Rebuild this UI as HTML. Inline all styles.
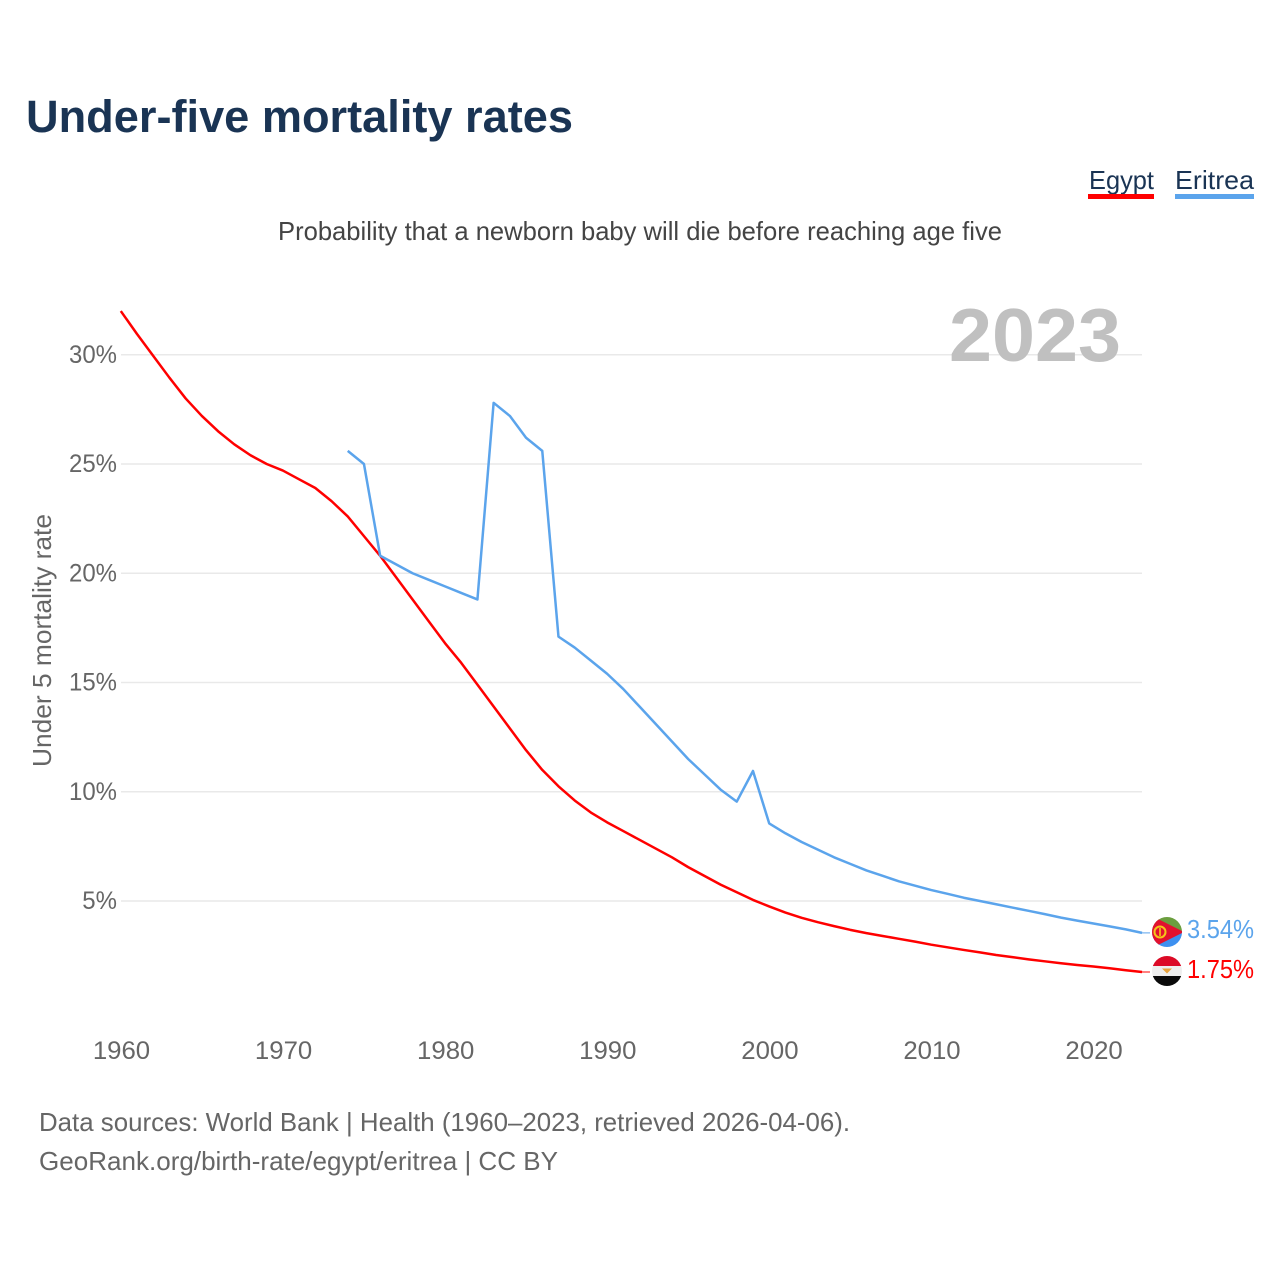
<!DOCTYPE html>
<html lang="en">
<head>
<meta charset="utf-8">
<title>Under-five mortality rates</title>
<style>
html,body{margin:0;padding:0;background:#fff;width:1280px;height:1280px;overflow:hidden}
svg{display:block}
text{font-family:"Liberation Sans",sans-serif}
</style>
</head>
<body>
<svg id="chart" width="1280" height="1280" viewBox="0 0 1280 1280" xmlns="http://www.w3.org/2000/svg">
  <defs>
    <clipPath id="clip-er"><circle cx="1167" cy="932" r="15"/></clipPath>
    <clipPath id="clip-eg"><circle cx="1167" cy="971" r="15"/></clipPath>
  </defs>
  <rect width="1280" height="1280" fill="#fff"/>
  <text x="26" y="132" font-size="45" font-weight="700" fill="#1a3454" textLength="547" lengthAdjust="spacingAndGlyphs">Under-five mortality rates</text>

  <g>
    <text x="1089" y="189" font-size="26" fill="#1a3454" textLength="65" lengthAdjust="spacingAndGlyphs">Egypt</text>
    <rect x="1088" y="194" width="66" height="5" fill="#ff0000"/>
  </g>
  <g>
    <text x="1175" y="189" font-size="26" fill="#1a3454" textLength="79" lengthAdjust="spacingAndGlyphs">Eritrea</text>
    <rect x="1175" y="194" width="79" height="5" fill="#5ba4ec"/>
  </g>

  <text x="278" y="240" font-size="26" fill="#444" textLength="724" lengthAdjust="spacingAndGlyphs">Probability that a newborn baby will die before reaching age five</text>

  <g id="grid"></g>
  <text x="949" y="361" font-size="75" font-weight="700" fill="#c0c0c0" textLength="172" lengthAdjust="spacingAndGlyphs">2023</text>
  <g id="yticks"></g>
  <g id="xticks"></g>
  <text transform="translate(51,767) rotate(-90)" font-size="26" fill="#666" textLength="253" lengthAdjust="spacingAndGlyphs">Under 5 mortality rate</text>

  <g id="series"></g>

  <g clip-path="url(#clip-er)">
    <rect x="1150" y="915" width="34" height="17" fill="#6b9e3f"/>
    <rect x="1150" y="932" width="34" height="17" fill="#3d90f0"/>
    <polygon points="1150,915 1184,932 1150,949" fill="#e2112f"/>
    <circle cx="1160" cy="932" r="5.5" fill="none" stroke="#f5c518" stroke-width="2"/>
    <rect x="1159.2" y="928" width="1.6" height="8" fill="#f5c518"/>
  </g>
  <g clip-path="url(#clip-eg)">
    <rect x="1150" y="954" width="34" height="12" fill="#dc0a26"/>
    <rect x="1150" y="966" width="34" height="10" fill="#eeeeee"/>
    <rect x="1150" y="976" width="34" height="12" fill="#0a0a0a"/>
    <polygon points="1162,968.5 1172,968.5 1167,973.5" fill="#e8a33d"/>
  </g>

  <text x="1187" y="938" font-size="26" fill="#5ba4ec" textLength="67" lengthAdjust="spacingAndGlyphs">3.54%</text>
  <text x="1187" y="978" font-size="26" fill="#ff0000" textLength="67" lengthAdjust="spacingAndGlyphs">1.75%</text>

  <text x="39" y="1131" font-size="26" fill="#666" textLength="811" lengthAdjust="spacingAndGlyphs">Data sources: World Bank | Health (1960–2023, retrieved 2026-04-06).</text>
  <text x="39" y="1170" font-size="26" fill="#666" textLength="519" lengthAdjust="spacingAndGlyphs">GeoRank.org/birth-rate/egypt/eritrea | CC BY</text>
</svg>
<script>
const egyptStartYear = 1960;
const egyptValues = [32.0,30.95,29.95,28.95,28.0,27.2,26.5,25.9,25.4,25.0,24.7,24.3,23.9,23.3,22.6,21.7,20.8,19.8,18.8,17.8,16.8,15.9,14.9,13.9,12.9,11.9,11.0,10.25,9.6,9.05,8.6,8.2,7.8,7.4,7.0,6.55,6.15,5.75,5.4,5.05,4.75,4.47,4.23,4.03,3.85,3.68,3.53,3.4,3.27,3.14,3.0,2.88,2.76,2.65,2.53,2.43,2.33,2.24,2.15,2.07,2.0,1.92,1.83,1.75];
const eritreaStartYear = 1974;
const eritreaValues = [25.6,25.0,20.8,20.4,20.0,19.7,19.4,19.1,18.8,27.8,27.2,26.2,25.6,17.1,16.6,16.0,15.4,14.7,13.9,13.1,12.3,11.5,10.8,10.1,9.55,10.95,8.55,8.1,7.7,7.35,7.0,6.7,6.4,6.15,5.9,5.7,5.5,5.33,5.15,5.0,4.85,4.7,4.55,4.4,4.24,4.1,3.97,3.84,3.7,3.54];
const yTickValues = [5,10,15,20,25,30];
const yTickLabels = ["5%","10%","15%","20%","25%","30%"];
const xTickValues = [1960,1970,1980,1990,2000,2010,2020];
const xTickLabels = ["1960","1970","1980","1990","2000","2010","2020"];

const NS = 'http://www.w3.org/2000/svg';
function xScale(year){ return 120.8 + (year - 1960) * 16.21; }
function yScale(v){ return 1010.25 - v * 21.85; }

const grid = document.getElementById('grid');
const yticks = document.getElementById('yticks');
const xticks = document.getElementById('xticks');
const series = document.getElementById('series');

yTickValues.forEach(function(v, i){
  const line = document.createElementNS(NS, 'line');
  line.setAttribute('x1', 121);
  line.setAttribute('x2', 1142);
  line.setAttribute('y1', yScale(v));
  line.setAttribute('y2', yScale(v));
  line.setAttribute('stroke', '#e9e9e9');
  line.setAttribute('stroke-width', '1.5');
  
  
  grid.appendChild(line);
  const t = document.createElementNS(NS, 'text');
  t.setAttribute('x', 117);
  t.setAttribute('y', yScale(v) + 8);
  t.setAttribute('text-anchor', 'end');
  t.setAttribute('font-size', '25');
  t.setAttribute('fill', '#666');
  
  
  t.textContent = yTickLabels[i];
  yticks.appendChild(t);
  t.setAttribute('lengthAdjust', 'spacingAndGlyphs');
  t.setAttribute('textLength', (t.getComputedTextLength() * 0.96).toFixed(1));
});

xTickValues.forEach(function(y, i){
  const t = document.createElementNS(NS, 'text');
  t.setAttribute('x', xScale(y) + 0.7);
  t.setAttribute('y', 1059);
  t.setAttribute('text-anchor', 'middle');
  t.setAttribute('font-size', '25');
  t.setAttribute('fill', '#666');
  
  
  t.textContent = xTickLabels[i];
  xticks.appendChild(t);
  t.setAttribute('lengthAdjust', 'spacingAndGlyphs');
  t.setAttribute('textLength', (t.getComputedTextLength() * 1.03).toFixed(1));
});

function linePoints(values, startYear){
  return values.map(function(v, i){
    return xScale(startYear + i).toFixed(2) + ',' + yScale(v).toFixed(2);
  }).join(' ');
}

function drawStub(values, color){
  const last = values[values.length - 1];
  const stub = document.createElementNS(NS, 'line');
  stub.setAttribute('x1', xScale(2023));
  stub.setAttribute('x2', 1150);
  stub.setAttribute('y1', yScale(last));
  stub.setAttribute('y2', yScale(last));
  stub.setAttribute('stroke', color);
  stub.setAttribute('stroke-width', '1');
  
  
  series.appendChild(stub);
}

const egyptLine = document.createElementNS(NS, 'polyline');
egyptLine.setAttribute('points', linePoints(egyptValues, egyptStartYear));
egyptLine.setAttribute('fill', 'none');
egyptLine.setAttribute('stroke', '#ff0000');
egyptLine.setAttribute('stroke-width', '2.5');
egyptLine.setAttribute('stroke-linejoin', 'round');


series.appendChild(egyptLine);
drawStub(egyptValues, '#ff0000');

const eritreaLine = document.createElementNS(NS, 'polyline');
eritreaLine.setAttribute('points', linePoints(eritreaValues, eritreaStartYear));
eritreaLine.setAttribute('fill', 'none');
eritreaLine.setAttribute('stroke', '#5ba4ec');
eritreaLine.setAttribute('stroke-width', '2.5');
eritreaLine.setAttribute('stroke-linejoin', 'round');


series.appendChild(eritreaLine);
drawStub(eritreaValues, '#5ba4ec');
</script>
</body>
</html>
